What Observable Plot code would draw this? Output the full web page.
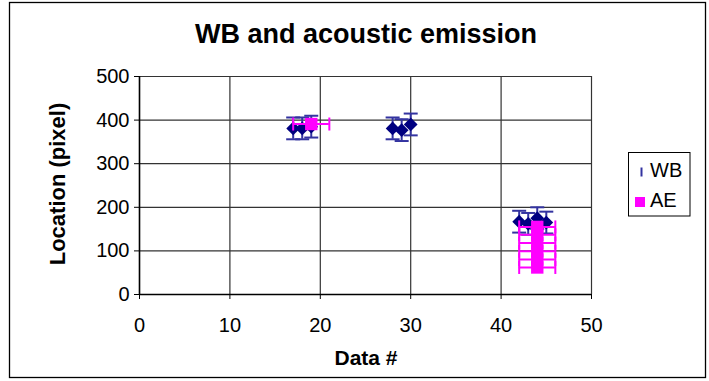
<!DOCTYPE html>
<html>
<head>
<meta charset="utf-8">
<script src="https://cdn.jsdelivr.net/npm/d3@7"></script>
<script src="https://cdn.jsdelivr.net/npm/@observablehq/plot@0.6"></script>
<style>
  html, body { margin: 0; padding: 0; background: white; }
  #chart { width: 709px; height: 381px; }
</style>
</head>
<body>
<div id="chart"></div>
<script>
// ---- data ----
const titleText = "WB and acoustic emission";
const xLabel = "Data #";
const yLabel = "Location (pixel)";
const xTicks = [0, 10, 20, 30, 40, 50];
const yTicks = [0, 100, 200, 300, 400, 500];

const wbX = [17, 18, 19, 28, 29, 30, 42, 43, 44, 45];
const wbY = [381, 381, 385, 381, 377, 390, 167, 162, 175, 165];
const wbErr = [25, 25, 25, 25, 25, 25, 25, 25, 25, 25];

const aeX = [19, 44, 44, 44, 44, 44, 44];
const aeY = [391, 155, 137, 118, 99, 80, 62];
const aeErr = [2, 2, 2, 2, 2, 2, 2];

const seriesNames = ["WB", "AE"];

// ---- tables ----
const wb = wbX.map((x, i) => ({x, y: wbY[i], e: wbErr[i]}));
const ae = aeX.map((x, i) => ({x, y: aeY[i], e: aeErr[i]}));
const wbCaps = wb.flatMap(d => [{x: d.x, y: d.y - d.e}, {x: d.x, y: d.y + d.e}]);
const aeCaps = ae.flatMap(d => [{x: d.x - d.e, y: d.y}, {x: d.x + d.e, y: d.y}]);

const hCap = {draw(ctx) { ctx.moveTo(-7, 0); ctx.lineTo(7, 0); }};
const vCap = {draw(ctx) { ctx.moveTo(0, -6.5); ctx.lineTo(0, 6.5); }};

const navy = "#000080";
const barBlue = "#3333A0";
const magenta = "#FF00FF";
const font = "Arial, 'Liberation Sans', sans-serif";

const svg = Plot.plot({
  width: 709,
  height: 381,
  marginLeft: 139,
  marginRight: 118,
  marginTop: 76,
  marginBottom: 87,
  style: {fontFamily: font, fontSize: "20px", background: "white", color: "black"},
  x: {domain: [0, 50]},
  y: {domain: [0, 500]},
  marks: [
    Plot.gridX({ticks: xTicks, stroke: "#333", strokeOpacity: 1, strokeWidth: 1.2}),
    Plot.gridY({ticks: yTicks, stroke: "#333", strokeOpacity: 1, strokeWidth: 1.2}),
    Plot.axisX({ticks: xTicks, tickSize: 5, tickPadding: 18, fontSize: 20, label: null, tickFormat: d => String(d)}),
    Plot.axisY({ticks: yTicks, tickSize: 5, tickPadding: 5, fontSize: 20, label: null, tickFormat: d => String(d)}),
    Plot.ruleX([0], {stroke: "black", strokeWidth: 1.5}),
    Plot.ruleY([0], {stroke: "black", strokeWidth: 1.5}),
    // WB error bars
    Plot.ruleX(wb, {x: "x", y1: d => d.y - d.e, y2: d => d.y + d.e, stroke: barBlue, strokeWidth: 2}),
    Plot.dot(wbCaps, {x: "x", y: "y", symbol: hCap, r: 3, stroke: barBlue, fill: "none", strokeWidth: 2}),
    // WB markers
    Plot.dot(wb, {x: "x", y: "y", symbol: "diamond2", r: 6.2, fill: navy, stroke: "none"}),
    // AE error bars
    Plot.ruleY(ae, {y: "y", x1: d => d.x - d.e, x2: d => d.x + d.e, stroke: magenta, strokeWidth: 2}),
    Plot.dot(aeCaps, {x: "x", y: "y", symbol: vCap, r: 3, stroke: magenta, fill: "none", strokeWidth: 2}),
    // AE markers
    Plot.dot(ae, {x: "x", y: "y", symbol: "square", r: 7, fill: magenta, stroke: "none"})
  ]
});

const s = d3.select(svg);
// outer border
s.append("rect").attr("x", 9.5).attr("y", 2.5).attr("width", 696).attr("height", 375)
  .attr("fill", "none").attr("stroke", "black").attr("stroke-width", 1.3);
// title
s.append("text").attr("x", 366).attr("y", 43).attr("text-anchor", "middle")
  .attr("font-family", font).attr("font-size", 27).attr("font-weight", "bold").text(titleText);
// x label
s.append("text").attr("x", 366).attr("y", 365).attr("text-anchor", "middle")
  .attr("font-family", font).attr("font-size", 21).attr("font-weight", "bold").text(xLabel);
// y label
s.append("text").attr("transform", "translate(65,184) rotate(-90)").attr("text-anchor", "middle")
  .attr("font-family", font).attr("font-size", 22).attr("font-weight", "bold").text(yLabel);
// legend
const lg = s.append("g").attr("text-anchor", "start");
lg.append("rect").attr("x", 628.5).attr("y", 152.5).attr("width", 61.5).attr("height", 63.5)
  .attr("fill", "white").attr("stroke", "black").attr("stroke-width", 1);
lg.append("line").attr("x1", 641.5).attr("x2", 641.5).attr("y1", 167.5).attr("y2", 176.5)
  .attr("stroke", barBlue).attr("stroke-width", 2);
lg.append("rect").attr("x", 635).attr("y", 197).attr("width", 10).attr("height", 10).attr("fill", magenta);
lg.append("text").attr("x", 650).attr("y", 177).attr("text-anchor", "start").attr("font-family", font).attr("font-size", 20).text(seriesNames[0]);
lg.append("text").attr("x", 650).attr("y", 207).attr("text-anchor", "start").attr("font-family", font).attr("font-size", 20).text(seriesNames[1]);

document.getElementById("chart").appendChild(svg);
</script>
</body>
</html>
